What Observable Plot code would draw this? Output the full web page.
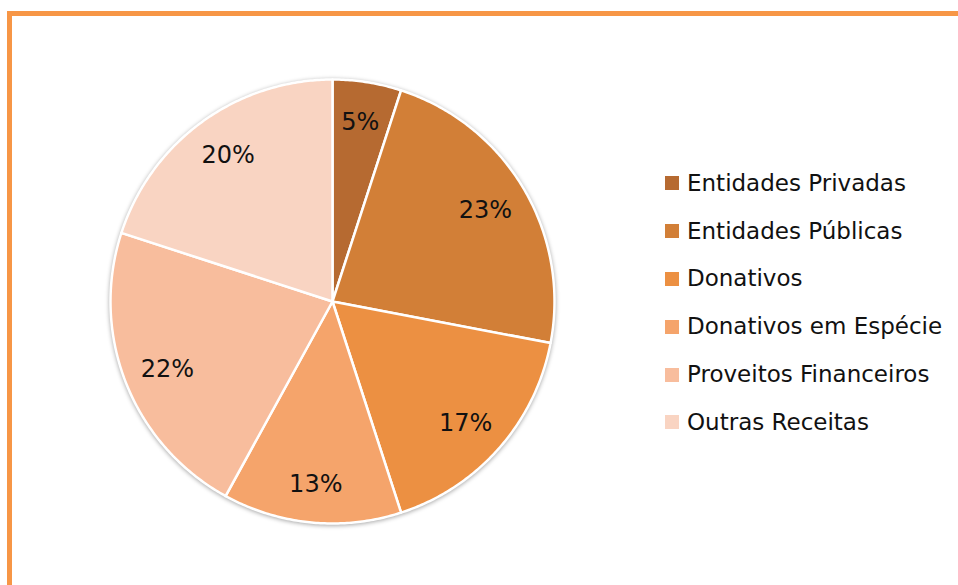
<!DOCTYPE html>
<html>
<head>
<meta charset="utf-8">
<script src="https://cdn.jsdelivr.net/npm/d3@7"></script>
<script src="https://cdn.jsdelivr.net/npm/@observablehq/plot@0.6"></script>
<style>
  html, body { margin: 0; padding: 0; background: #fff; }
  #wrap { position: relative; width: 958px; height: 585px; overflow: hidden; background: #fff; }
  #frame { position: absolute; left: 7px; top: 11px; width: 960px; height: 600px;
           border-top: 5px solid #F79646; border-left: 5px solid #F79646; box-sizing: border-box; }
  #chart { position: absolute; left: 0; top: 0; }
  #chart svg g[aria-label="line"] { filter: drop-shadow(0px 1px 2px rgba(0,0,0,0.35)); }
  #legend { position: absolute; left: 665px; top: 159px; font-family: "DejaVu Sans", sans-serif;
            font-size: 23px; color: #111; }
  .item { display: flex; align-items: center; height: 47.8px; margin: 0; white-space: nowrap; }
  .sw { width: 14px; height: 14px; margin-right: 8px; margin-top: 1px; flex: none; }
</style>
</head>
<body>
<div id="wrap">
  <div id="frame"></div>
  <div id="chart"></div>
  <div id="legend"></div>
</div>
<script>
const categories = ["Entidades Privadas", "Entidades Públicas", "Donativos", "Donativos em Espécie", "Proveitos Financeiros", "Outras Receitas"];
const values = [5, 23, 17, 13, 22, 20];
const colors = ["#B66A31", "#D27F37", "#EC9042", "#F5A46B", "#F8BD9D", "#F9D4C2"];

// Build slice polygons (unit circle) from the data via d3.pie angles
const arcs = d3.pie().sort(null).value(d => d.value)(categories.map((c, i) => ({category: c, value: values[i]})));
const polys = [];
const labels = [];
arcs.forEach(a => {
  const c = a.data.category;
  polys.push({category: c, x: 0, y: 0});
  const n = Math.max(2, Math.ceil((a.endAngle - a.startAngle) / 0.01));
  for (let k = 0; k <= n; k++) {
    const t = a.startAngle + (a.endAngle - a.startAngle) * k / n;
    polys.push({category: c, x: Math.sin(t), y: Math.cos(t)});
  }
  const m = (a.startAngle + a.endAngle) / 2;
  labels.push({category: c, x: 0.8 * Math.sin(m), y: 0.82 * Math.cos(m) - 0.005, text: a.data.value + "%"});
});

const cx = 332, cy = 301, r = 222;
const W = 958, H = 585;
const chart = Plot.plot({
  width: W, height: H,
  marginLeft: cx - r, marginRight: W - (cx + r),
  marginTop: cy - r, marginBottom: H - (cy + r),
  x: {domain: [-1, 1], axis: null},
  y: {domain: [-1, 1], axis: null},
  color: {domain: categories, range: colors},
  style: {background: "transparent", overflow: "visible"},
  marks: [
    Plot.line(polys, {x: "x", y: "y", z: "category", fill: "category", stroke: "white", strokeWidth: 2.5, curve: "linear-closed", strokeLinejoin: "round"}),
    Plot.text(labels, {x: "x", y: "y", text: "text", fill: "#111", fontSize: 24, fontFamily: "DejaVu Sans, sans-serif"})
  ]
});
document.getElementById("chart").appendChild(chart);

const legend = document.getElementById("legend");
categories.forEach((c, i) => {
  const d = document.createElement("div");
  d.className = "item";
  d.innerHTML = `<span class="sw" style="background:${colors[i]}"></span><span>${c}</span>`;
  legend.appendChild(d);
});
</script>
</body>
</html>
